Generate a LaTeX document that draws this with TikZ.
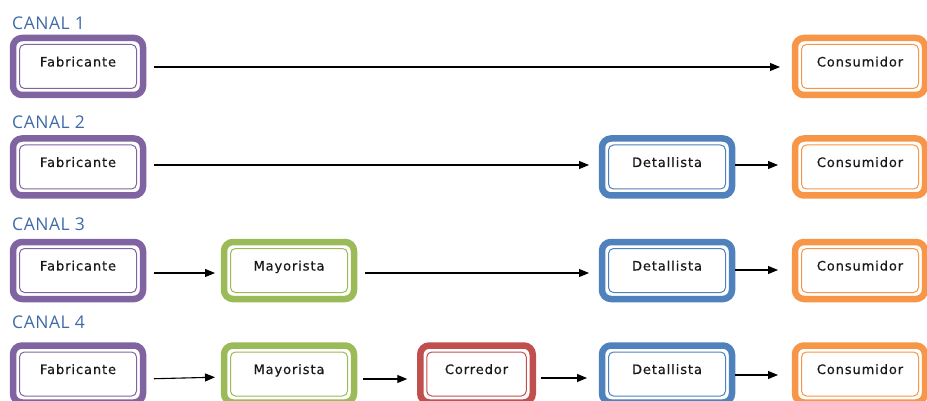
\documentclass[tikz,border=0pt]{standalone}
\usepackage{fontspec}
\usetikzlibrary{arrows.meta}
\newfontfamily\boxfont[LetterSpace=7,FakeBold=0.4]{DejaVu Sans}
\newfontfamily\canalfont[LetterSpace=3]{Open Sans}
\definecolor{cpur}{HTML}{8064A2}
\definecolor{cora}{HTML}{F79646}
\definecolor{cblu}{HTML}{4F81BD}
\definecolor{cgrn}{HTML}{9BBB59}
\definecolor{cred}{HTML}{C0504D}
\definecolor{ctit}{HTML}{3F6BA6}
\tikzset{
  bx/.style={draw=#1, line width=6.5pt, rounded corners=9pt, fill=white,
    minimum height=57pt, minimum width=130pt, outer sep=0pt, inner sep=0pt,
    font=\boxfont\fontsize{13}{15}\selectfont, text=black!90},
  inbx/.style={draw=#1, line width=1pt, rounded corners=5pt},
  canal/.style={anchor=base west, inner sep=0pt, text=ctit, font=\canalfont\fontsize{17.5}{20}\selectfont},
  arr/.style={line width=1.1pt, -{Triangle[length=10pt,width=8pt]}, shorten <=#1},
  arr/.default=10pt
}
\newcommand{\mybox}[5]{%
  \node[bx=#4] (#1) at #2 {\raisebox{0pt}[0pt][0pt]{#5}};
  \draw[inbx=#4] ([shift={(6.5pt,-6.5pt)}]#1.north west) rectangle ([shift={(-6.5pt,6.5pt)}]#1.south east);
}
\begin{document}
\begin{tikzpicture}[x=1pt,y=-1pt]
\useasboundingbox (0,0) rectangle (927,401);
% labels
\node[canal] (c1) at (12,30) {CANAL 1};
\node[canal] (c2) at (12,129) {CANAL 2};
\node[canal] (c3) at (12,230) {CANAL 3};
\node[canal] (c4) at (12,328) {CANAL 4};
% row 1
\mybox{f1}{(78,66.5)}{}{cpur}{Fabricante}
\mybox{k1}{(860,66.5)}{}{cora}{Consumidor}
% row 2
\mybox{f2}{(78,167)}{}{cpur}{Fabricante}
\mybox{d2}{(667,167)}{}{cblu}{Detallista}
\mybox{k2}{(860,167)}{}{cora}{Consumidor}
% row 3
\mybox{f3}{(78,270.5)}{}{cpur}{Fabricante}
\mybox{m3}{(289,270.5)}{}{cgrn}{Mayorista}
\mybox{d3}{(667,270.5)}{}{cblu}{Detallista}
\mybox{k3}{(860,270.5)}{}{cora}{Consumidor}
% row 4
\mybox{f4}{(78,374)}{}{cpur}{Fabricante}
\mybox{m4}{(289,374)}{}{cgrn}{Mayorista}
\node[bx=cred, minimum width=112.5pt] (r4) at (476.5,374) {\raisebox{0pt}[0pt][0pt]{Corredor}};
\draw[inbx=cred] ([shift={(6.5pt,-6.5pt)}]r4.north west) rectangle ([shift={(-6.5pt,6.5pt)}]r4.south east);
\mybox{d4}{(667,374)}{}{cblu}{Detallista}
\mybox{k4}{(860,374)}{}{cora}{Consumidor}
% arrows (yshift is in page direction: positive = up)
\draw[arr=11pt, shorten >=15pt] ([yshift=-0.5pt]f1.east) -- ([yshift=-0.5pt]k1.west);
\draw[arr=11pt, shorten >=13pt] ([yshift=2pt]f2.east) -- ([yshift=2pt]d2.west);
\draw[arr=3pt, shorten >=17pt] ([yshift=2pt]d2.east) -- ([yshift=2pt]k2.west);
\draw[arr=11pt, shorten >=9pt] ([yshift=-2.5pt]f3.east) -- ([yshift=-2.5pt]m3.west);
\draw[arr=11pt, shorten >=13pt] ([yshift=-2.5pt]m3.east) -- ([yshift=-2.5pt]d3.west);
\draw[arr=3pt, shorten >=17pt] ([yshift=0.5pt]d3.east) -- ([yshift=0.5pt]k3.west);
\draw[arr=11pt, shorten >=9pt] ([yshift=-5pt]f4.east) -- ([yshift=-3pt]m4.west);
\draw[arr=9pt, shorten >=13pt] ([yshift=-5pt]m4.east) -- ([yshift=-5pt]r4.west);
\draw[arr=8pt, shorten >=15pt] ([yshift=-4pt]r4.east) -- ([yshift=-4pt]d4.west);
\draw[arr=3pt, shorten >=17pt] ([yshift=-1pt]d4.east) -- ([yshift=-1pt]k4.west);
\end{tikzpicture}
\end{document}
